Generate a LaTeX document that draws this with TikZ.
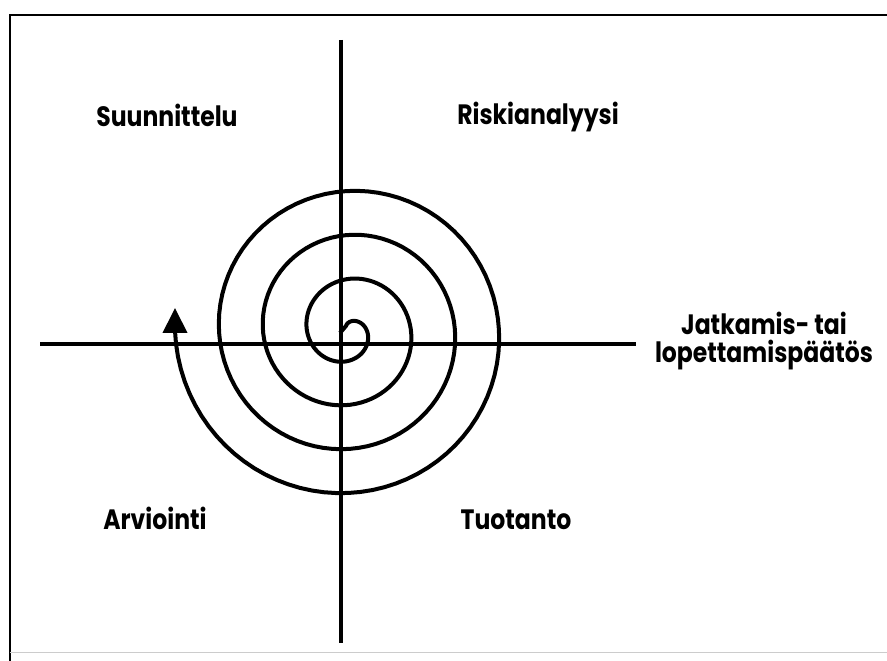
\documentclass[tikz,border=0pt]{standalone}
\usepackage{fontspec}
\setmainfont{Poppins}
\newfontfamily\lblfont{Poppins}[FakeStretch=0.84]
\usetikzlibrary{arrows.meta}
\tikzset{
  axis/.style={line width=3.3pt},
  spiral/.style={line width=4pt, -{Triangle[length=25pt,width=24pt]}},
  quadlabel/.style={anchor=base, inner sep=0pt, font=\lblfont\bfseries\fontsize{28}{28}\selectfont}
}
\begin{document}
\begin{tikzpicture}[x=1pt,y=1pt]
\useasboundingbox (0,0) rectangle (887,661);
% frame
\draw[line width=2pt] (887,646) -- (10,646) -- (10,0);
\draw[gray!40, line width=1pt] (10,8) -- (887,8);
% axes
\coordinate (north) at (341,621);
\coordinate (south) at (341,18);
\coordinate (west) at (40,317);
\coordinate (east) at (636,317);
\draw[axis] (north) -- (south);
\draw[axis] (west) -- (east);
% spiral
\coordinate (start) at (340,328);
\coordinate (tip) at (175,353);
\draw[spiral] (start) -- plot[domain=-290:1080, samples=320, variable=\t]
  ({348 + (41+0.12222*\t)*cos(180-\t)}, {330 + (41+0.12222*\t)*sin(180-\t)}) -- (tip);
% labels
\node[quadlabel] (plan) at (167,534) {Suunnittelu};
\node[quadlabel] (risk) at (538,536) {Riskianalyysi};
\node[quadlabel] (eval) at (155,131) {Arviointi};
\node[quadlabel] (prod) at (516,131) {Tuotanto};
\node[quadlabel, align=center] (decision) at (764,298) {Jatkamis- tai\\lopettamispäätös};
\end{tikzpicture}
\end{document}
